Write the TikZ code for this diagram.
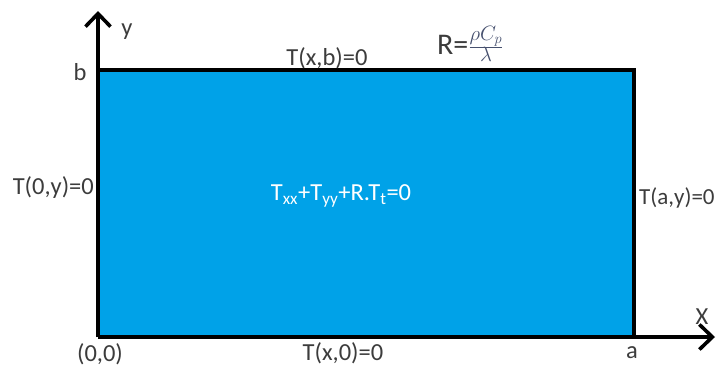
\documentclass[tikz,border=0pt]{standalone}
\usepackage{fontspec}
\setmainfont{Carlito}
\usepackage{tikz}
\usetikzlibrary{arrows.meta,positioning}
\definecolor{plateblue}{RGB}{0,162,232}
\definecolor{labelgray}{RGB}{60,60,60}
\definecolor{fracblue}{RGB}{70,80,110}

\begin{document}
\begin{tikzpicture}[x=1pt,y=-1pt, every node/.style={font=\fontsize{24.5}{28}\selectfont,text=labelgray,inner sep=0pt},
    axis/.style={line width=3.6pt,-{Straight Barb[length=13pt,width=25pt,line width=3.6pt]}}]
        \useasboundingbox (0,0) rectangle (718,367);
        % heated plate
        \coordinate (O) at (98,337);
        \coordinate (A) at (634,337);
        \coordinate (B) at (98,70);
        \coordinate (AB) at (634,70);
        \fill[plateblue] (O) rectangle (AB);
        \draw[line width=3.6pt] (O) -- (B) -- (AB) -- (A);

        % axes
        \coordinate (ytip) at (98,11);
        \coordinate (xtip) at (715,337);
        \draw[axis] (O) -- (ytip);
        \draw[axis] (O) -- (xtip);

        % axis labels
        \node (ylab) at (127,32) {y};
        \node (blab) at (80,72) {b};
        \node (xlab) at (702,317) {X};
        \node (alab) at (632,353) {a};
        \node (olab) at (100,354) {(0,0)};

        % boundary conditions
        \node (top) at (327,58) {T(x,b)=0};
        \node (bottom) at (343,353) {T(x,0)=0};
        \node[anchor=east] (left) at (94,188) {T(0,y)=0};
        \node[anchor=west,font=\fontsize{23}{26}\selectfont] (right) at (639,198) {T(a,y)=0};
        \node[font=\fontsize{30}{34}\selectfont,anchor=west] (rdef) at (437,44)
          {R=\raisebox{1pt}{\color{fracblue}$\frac{\rho C_p}{\lambda}$}};

        % governing equation
        \node[text=white] (pde) at (341,196)
          {T\textsubscript{xx}+T\textsubscript{yy}+R.T\textsubscript{t}=0};
      \end{tikzpicture}
\end{document}
